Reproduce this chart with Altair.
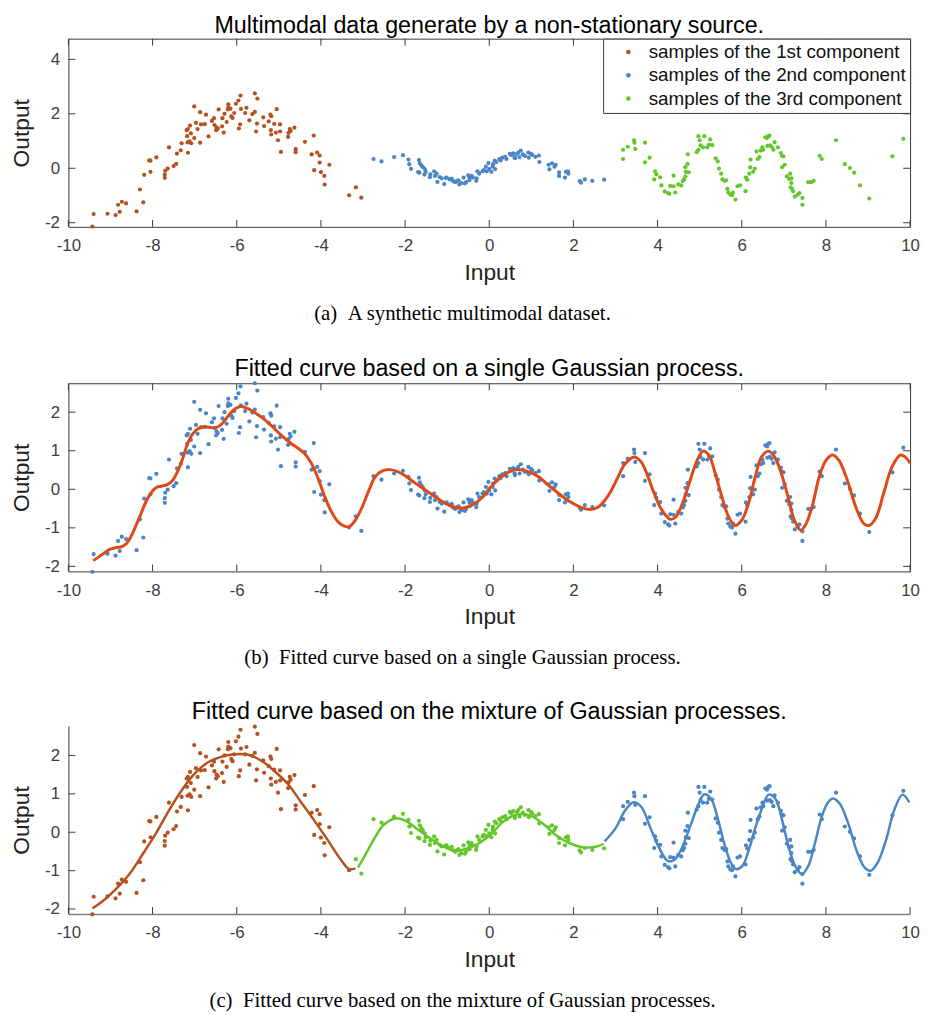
import altair as alt
import pandas as pd

# ---------------- data ----------------
# component 1 (left, broad bump)
c1_x = [-9.43, -9.40, -9.07, -8.88, -8.78, -8.82, -8.73, -8.63, -8.38, -8.22, -8.30, -8.20, -8.08, -8.05, -8.05,
        -7.91, -7.71, -7.71, -7.70, -7.64, -7.61, -7.50, -7.44, -7.42, -7.33, -7.31, -7.16, -7.18, -7.19, -7.16,
        -7.11, -7.12, -7.08, -7.17, -7.09, -7.01, -6.93, -6.97, -6.87, -7.01, -6.87, -6.85, -6.73, -6.76,
        -6.67, -6.59, -6.54, -6.53, -6.48, -6.49, -6.43, -6.45, -6.35, -6.34, -6.31, -6.29, -6.24, -6.21, -6.20,
        -6.20, -6.15, -6.13, -6.10, -6.06, -6.02, -5.96, -5.91, -5.92, -5.95, -5.90, -5.80, -5.77, -5.70, -5.63,
        -5.57, -5.51, -5.57, -5.52, -5.54, -5.35, -5.37, -5.20, -5.18, -5.05, -5.24, -5.19, -5.18, -5.11, -5.07,
        -4.97, -4.97, -5.02, -4.95, -4.78, -4.77, -4.74, -4.72, -4.63, -4.60, -4.60, -4.38, -4.17, -4.22, -4.09,
        -4.03, -4.16, -4.03, -4.00, -3.92, -3.91, -3.80, -3.33, -3.17, -3.04]
c1_y = [-2.14, -1.68, -1.67, -1.72, -1.60, -1.34, -1.23, -1.29, -1.58, -1.25, -0.78, -0.24, 0.29, 0.28, -0.13,
        0.40, -0.35, -0.23, -0.09, -0.01, 0.77, 0.08, 0.16, 0.54, 0.66, 0.92, 0.57, 1.18, 1.40, 1.44,
        1.57, 0.99, 0.92, 0.95, 1.28, 1.11, 1.44, 1.67, 0.94, 2.27, 2.06, 1.61, 1.97, 1.62,
        1.17, 1.74, 1.84, 1.59, 1.50, 1.40, 2.16, 1.46, 1.54, 1.84, 1.31, 2.00, 1.70, 2.16, 2.35,
        2.23, 2.19, 1.91, 1.85, 2.03, 2.37, 2.49, 2.67, 1.61, 1.46, 2.18, 2.03, 2.22, 1.76, 1.99,
        2.75, 2.56, 2.07, 1.64, 1.35, 1.55, 1.87, 1.97, 1.91, 2.17, 1.72, 1.40, 1.24, 1.63, 1.31,
        1.61, 1.35, 1.03, 0.60, 1.15, 1.30, 1.44, 1.37, 1.49, 0.70, 0.59, 0.97, 1.20, 0.51, 0.58,
        0.47, -0.07, 0.21, -0.14, -0.28, -0.60, 0.13, -0.99, -0.70, -1.08]

# component 2 (middle, slow wave)
c2_x = [-2.75, -2.56, -2.26, -2.05, -1.92, -1.90, -1.86, -1.67, -1.65, -1.61, -1.58, -1.69, -1.66, -1.53, -1.51,
        -1.54, -1.41, -1.40, -1.31, -1.25, -1.29, -1.23, -1.18, -1.13, -1.07, -1.03, -1.01, -0.94, -0.89, -0.86,
        -0.81, -0.77, -0.73, -0.71, -0.66, -0.61, -0.58, -0.55, -0.50, -0.47, -0.47, -0.42, -0.39, -0.31, -0.30,
        -0.28, -0.24, -0.16,
        -0.13, -0.08, -0.06, -0.02, 0.00, 0.05, 0.08, 0.09, 0.13, 0.14, 0.17, 0.24, 0.27, 0.31, 0.38,
        0.41, 0.49, 0.52, 0.57, 0.60, 0.61, 0.66, 0.69, 0.72, 0.75, 0.80, 0.85, 0.93, 0.94, 0.99,
        1.02, 1.10, 1.18, 1.19, 1.41, 1.43, 1.49, 1.55, 1.58, 1.66, 1.66, 1.80, 1.82, 1.87, 1.88,
        2.15, 2.18, 2.27, 2.45, 2.73]
c2_y = [0.34, 0.25, 0.41, 0.48, 0.32, 0.15, -0.02, 0.30, 0.18, 0.10, 0.05, -0.14, -0.16, -0.03, -0.13,
        -0.23, -0.33, -0.22, -0.11, -0.20, -0.28, -0.50, -0.32, -0.37, -0.58, -0.35, -0.34, -0.41, -0.38, -0.47,
        -0.51, -0.47, -0.44, -0.59, -0.54, -0.34, -0.56, -0.51, -0.26, -0.34, -0.44, -0.28, -0.34, -0.46, -0.37,
        -0.11, -0.20, -0.11,
        -0.07, 0.06, -0.11, 0.19, -0.03, -0.13, 0.06, 0.15, 0.28, -0.03, 0.23, 0.34, 0.29, 0.39, 0.42,
        0.34, 0.53, 0.49, 0.55, 0.41, 0.37, 0.53, 0.58, 0.41, 0.65, 0.51, 0.45, 0.58, 0.39, 0.53,
        0.49, 0.42, 0.47, 0.23, 0.13, -0.04, 0.18, 0.06, 0.13, -0.15, -0.28, -0.34, -0.13, -0.11, -0.20,
        -0.47, -0.53, -0.41, -0.46, -0.42]

# component 3 (right, fast wave)
c3_x = [3.18, 3.18, 3.29, 3.44, 3.45, 3.47, 3.70, 3.70, 3.81, 3.94, 3.97, 3.92, 4.06, 4.09, 4.17,
        4.25, 4.28, 4.30, 4.38, 4.38, 4.42, 4.49, 4.56, 4.60, 4.63, 4.66, 4.67, 4.66, 4.71, 4.74,
        4.72, 4.93, 4.97, 4.97, 5.00, 5.02, 5.11, 5.08, 5.18, 5.22, 5.25, 5.30, 5.38, 5.43, 5.46,
        5.51, 5.54, 5.59, 5.63, 5.66, 5.68, 5.73, 5.77, 5.79, 5.85, 5.90, 5.96, 6.09, 6.10, 6.13,
        6.18, 6.20, 6.21, 6.27, 6.31, 6.35, 6.38, 6.42, 6.45, 6.51, 6.56, 6.49,
        6.60, 6.63, 6.66, 6.61, 6.67, 6.71, 6.75, 6.78, 6.86, 6.93, 6.96, 6.99, 6.96, 7.02, 7.07,
        7.15, 7.13, 7.18, 7.16, 7.19, 7.18, 7.22, 7.26, 7.33, 7.37, 7.44, 7.44, 7.58, 7.65, 7.71,
        7.85, 7.90, 8.24, 8.45, 8.57, 8.67, 8.81, 9.03, 9.58, 9.84]
c3_y = [0.68, 0.34, 0.79, 1.03, 0.94, 0.71, 0.94, 0.22, 0.39, -0.11, -0.22, -0.41, -0.33, -0.63, -0.85,
        -0.91, -0.94, -0.65, -0.27, -0.66, -0.89, -0.59, -0.63, -0.47, -0.41, -0.30, -0.13, 0.04, 0.16, -0.15,
        0.51, 0.59, 0.68, 1.18, 1.03, 0.84, 1.18, 0.77, 0.77, 0.87, 1.06, 0.85, 0.36, 0.25, -0.01,
        -0.20, -0.41, -0.46, -0.44, -0.76, -0.89, -0.97, -0.99, -0.89, -1.15, -0.66, -0.63, -0.84, -0.34, -0.42,
        -0.20, 0.03, 0.32, -0.13, -0.01, 0.62, 0.34, 0.41, 0.65, 0.68, 1.14, 0.77,
        1.11, 1.18, 1.20, 0.82, 0.84, 0.79, 0.68, 0.96, 0.77, 0.56, 0.45, 0.44, 0.04, 0.13, -0.30,
        -0.20, -0.39, -0.37, -0.70, -0.75, -0.54, -0.84, -1.04, -0.97, -0.91, -1.09, -1.34, -0.51, -0.51, -0.46,
        0.46, 0.34, 1.03, 0.15, 0.01, -0.16, -0.63, -1.11, 0.44, 1.08]

# points of component 1 that the mixture model attached to its middle expert
mix_moved_x = [-3.17, -3.04]

# single GP fit (panel b)
gp_x = [-9.41, -9.18, -9.02, -8.86, -8.74, -8.63, -8.51, -8.39, -8.27, -8.16, -8.04, -7.92, -7.80, -7.65, -7.53,
        -7.41, -7.29, -7.18, -7.06, -6.94, -6.80, -6.65, -6.51, -6.35, -6.20, -6.04, -5.90, -5.73, -5.53, -5.33,
        -5.14, -4.94, -4.75, -4.55, -4.39, -4.24, -4.08, -3.92, -3.77, -3.61, -3.47, -3.33, -3.18, -3.02, -2.86,
        -2.71, -2.55, -2.35, -2.16, -1.96, -1.76, -1.57, -1.37, -1.18, -0.98, -0.78, -0.59, -0.39, -0.12, 0.00,
        0.24, 0.47, 0.69, 0.94, 1.18, 1.41, 1.65, 1.88, 2.12, 2.27, 2.43, 2.59, 2.75, 2.90, 3.06,
        3.22, 3.45, 3.61, 3.76, 3.92, 4.08, 4.24, 4.31, 4.43, 4.59, 4.75, 4.94, 5.08, 5.22, 5.37,
        5.53, 5.69, 5.84, 6.00, 6.16, 6.31, 6.47, 6.64, 6.78, 6.94, 7.10, 7.25, 7.40, 7.53, 7.69,
        7.84, 8.00, 8.16, 8.31, 8.51, 8.71, 8.90, 9.02, 9.18, 9.37, 9.57, 9.77, 9.88, 10.0]
gp_y = [-1.85, -1.68, -1.56, -1.51, -1.49, -1.42, -1.22, -0.93, -0.62, -0.33, -0.10, 0.04, 0.08, 0.12, 0.22,
        0.45, 0.78, 1.15, 1.42, 1.56, 1.61, 1.61, 1.59, 1.70, 1.91, 2.09, 2.15, 2.09, 1.96, 1.80,
        1.61, 1.40, 1.22, 1.07, 0.93, 0.70, 0.32, -0.16, -0.54, -0.82, -0.94, -0.97, -0.80, -0.46, -0.03,
        0.32, 0.47, 0.51, 0.45, 0.32, 0.16, 0.02, -0.13, -0.27, -0.40, -0.48, -0.48, -0.40, -0.16, 0.02,
        0.28, 0.45, 0.51, 0.45, 0.32, 0.10, -0.11, -0.30, -0.44, -0.50, -0.52, -0.46, -0.28, -0.03, 0.32,
        0.65, 0.84, 0.71, 0.36, -0.11, -0.50, -0.73, -0.78, -0.72, -0.37, 0.15, 0.75, 0.99, 0.88, 0.41,
        -0.20, -0.72, -0.94, -0.80, -0.37, 0.28, 0.84, 0.99, 0.84, 0.41, -0.20, -0.80, -1.06, -0.89, -0.37,
        0.32, 0.75, 0.89, 0.75, 0.23, -0.46, -0.89, -0.94, -0.76, -0.11, 0.58, 0.89, 0.84, 0.68]

# mixture of GPs fit (panel c): one curve per expert
m1_x = [-9.43, -9.18, -8.86, -8.55, -8.24, -7.92, -7.61, -7.29, -6.98, -6.67, -6.35, -6.04, -5.73, -5.41, -5.10,
        -4.78, -4.47, -4.16, -3.84, -3.53, -3.33, -3.18]
m1_y = [-1.98, -1.79, -1.47, -1.09, -0.58, -0.03, 0.57, 1.12, 1.55, 1.83, 1.97, 2.03, 2.02, 1.86, 1.59,
        1.25, 0.78, 0.31, -0.20, -0.71, -0.96, -0.94]
m2_x = [-3.12, -2.94, -2.75, -2.51, -2.24, -2.00, -1.73, -1.41, -1.10, -0.78, -0.61, -0.30, 0.02, 0.33, 0.64,
        0.96, 1.27, 1.58, 1.90, 2.21, 2.53, 2.72]
m2_y = [-0.92, -0.58, -0.20, 0.19, 0.36, 0.30, 0.10, -0.15, -0.37, -0.49, -0.45, -0.32, -0.07, 0.27, 0.46,
        0.44, 0.23, -0.07, -0.28, -0.39, -0.38, -0.30]
m3_x = [2.74, 3.00, 3.23, 3.43, 3.62, 3.82, 4.02, 4.25, 4.41, 4.56, 4.80, 4.96, 5.11, 5.27, 5.43,
        5.58, 5.74, 5.86, 6.02, 6.17, 6.33, 6.49, 6.64, 6.80, 6.96, 7.11, 7.27, 7.43, 7.58, 7.74,
        7.90, 8.05, 8.17, 8.33, 8.53, 8.72, 8.92, 9.07, 9.23, 9.43, 9.62, 9.82, 9.98]
m3_y = [-0.24, 0.10, 0.57, 0.78, 0.65, 0.14, -0.37, -0.75, -0.71, -0.45, 0.23, 0.70, 0.99, 0.87, 0.36,
        -0.28, -0.79, -0.96, -0.87, -0.45, 0.14, 0.65, 0.98, 0.87, 0.31, -0.37, -0.88, -1.09, -0.88, -0.28,
        0.40, 0.78, 0.88, 0.74, 0.23, -0.45, -0.92, -1.00, -0.79, -0.20, 0.57, 0.98, 0.78]

legend_labels = ["samples of the 1st component", "samples of the 2nd component", "samples of the 3rd component"]
x_ticks = [-10, -8, -6, -4, -2, 0, 2, 4, 6, 8, 10]
ya_ticks = [-2, 0, 2, 4]
yb_ticks = [-2, -1, 0, 1, 2]

titles = ["Multimodal data generate by a non-stationary source.",
          "Fitted curve based on a single Gaussian process.",
          "Fitted curve based on the mixture of Gaussian processes."]
captions = ["(a)\u00a0\u00a0A synthetic multimodal dataset.",
            "(b)\u00a0\u00a0Fitted curve based on a single Gaussian process.",
            "(c)\u00a0\u00a0Fitted curve based on the mixture of Gaussian processes."]

# ---------------- styling ----------------
BROWN = "#b4521f"
BLUE = "#4a85c5"
GREEN = "#63c62b"
ORANGE = "#dd4a18"
AX = "#3a3a3a"
LBL = "#404040"
SANS = "Liberation Sans"
SERIF = "Liberation Serif"
W, H = 850, 190
PT = 18
TK = 7

# ---------------- tables ----------------
rows = []
for xs, ys, lab in [(c1_x, c1_y, legend_labels[0]), (c2_x, c2_y, legend_labels[1]), (c3_x, c3_y, legend_labels[2])]:
    for a, b in zip(xs, ys):
        if lab == legend_labels[0] and a in mix_moved_x:
            mix = "m2"
        else:
            mix = {legend_labels[0]: "m1", legend_labels[1]: "m2", legend_labels[2]: "m3"}[lab]
        rows.append({"x": a, "y": b, "comp": lab, "mix": mix})
pts = pd.DataFrame(rows)
gp = pd.DataFrame({"x": gp_x, "y": gp_y})
m1 = pd.DataFrame({"x": m1_x, "y": m1_y})
m2 = pd.DataFrame({"x": m2_x, "y": m2_y})
m3 = pd.DataFrame({"x": m3_x, "y": m3_y})


def xenc(box):
    return alt.X("x:Q", scale=alt.Scale(domain=[-10, 10], nice=False, zero=False),
                 axis=alt.Axis(title="Input", values=x_ticks, labelExpr="'' + datum.value",
                               ticks=False, grid=False, domain=not box, domainColor="#808080",
                               domainWidth=1.5, labelFlush=False,
                               labelFont=SANS, labelFontSize=17, labelColor=LBL, labelPadding=11,
                               titleFont=SANS, titleFontSize=23, titleFontWeight="normal",
                               titleColor="#222222", titlePadding=8))


def yenc(dom, ticks, box):
    return alt.Y("y:Q", scale=alt.Scale(domain=dom, nice=False, zero=False),
                 axis=alt.Axis(title="Output", values=ticks, labelExpr="'' + datum.value",
                               ticks=False, grid=False, domain=not box, domainColor=AX, domainWidth=1,
                               labelFlush=False,
                               labelFont=SANS, labelFontSize=17, labelColor=LBL, labelPadding=9,
                               titleFont=SANS, titleFontSize=23, titleFontWeight="normal",
                               titleColor="#222222", titlePadding=11))


def tick_layers(dom, yt, box):
    xs = pd.DataFrame({"x": x_ticks})
    ys = pd.DataFrame({"y": yt})
    xsc = alt.Scale(domain=[-10, 10], nice=False, zero=False)
    ysc = alt.Scale(domain=dom, nice=False, zero=False)
    lay = [
        alt.Chart(xs).mark_rule(color=AX, strokeWidth=1).encode(
            x=alt.X("x:Q", scale=xsc), y=alt.value(H), y2=alt.value(H - TK)),
        alt.Chart(ys).mark_rule(color=AX, strokeWidth=1).encode(
            y=alt.Y("y:Q", scale=ysc), x=alt.value(0), x2=alt.value(TK)),
    ]
    if box:
        lay += [
            alt.Chart(xs).mark_rule(color=AX, strokeWidth=1).encode(
                x=alt.X("x:Q", scale=xsc), y=alt.value(0), y2=alt.value(TK)),
            alt.Chart(ys).mark_rule(color=AX, strokeWidth=1).encode(
                y=alt.Y("y:Q", scale=ysc), x=alt.value(W), x2=alt.value(W - TK)),
        ]
    return lay


def caption(txt):
    return alt.Chart(pd.DataFrame({"t": [txt]})).mark_text(
        font=SERIF, fontSize=21, color="black", baseline="middle", align="center").encode(
        text="t:N", x=alt.value(W / 2 - 27), y=alt.value(H + 88))


def title(txt):
    return alt.TitleParams(txt, font=SANS, fontSize=23.5, fontWeight="normal", color="black",
                           anchor="middle", offset=1)


# ---------------- panel a ----------------
dom_a = [-2.15, 4.76]
pa_points = alt.Chart(pts).mark_circle(size=PT, opacity=1).encode(
    x=xenc(True), y=yenc(dom_a, ya_ticks, True),
    color=alt.Color("comp:N", scale=alt.Scale(domain=legend_labels, range=[BROWN, BLUE, GREEN]),
                    legend=alt.Legend(title=None, orient="top-right", offset=0, padding=4,
                                      strokeColor=AX, fillColor="white", symbolType="circle",
                                      symbolSize=22, symbolStrokeWidth=0, labelFont=SANS, labelFontSize=19,
                                      labelColor="#111111", labelLimit=400, rowPadding=3.5,
                                      symbolOffset=12, labelOffset=11)))
panel_a = alt.layer(pa_points, *tick_layers(dom_a, ya_ticks, True), caption(captions[0])).properties(
    width=W, height=H, title=title(titles[0]), view=alt.ViewBackground(stroke=AX, strokeWidth=1))

# ---------------- panel b ----------------
dom_b = [-2.13, 2.75]
pb_points = alt.Chart(pts).mark_circle(size=PT, opacity=1, color=BLUE).encode(
    x=xenc(True), y=yenc(dom_b, yb_ticks, True))
pb_line = alt.Chart(gp).mark_line(color=ORANGE, strokeWidth=3, interpolate="catmull-rom").encode(
    x=xenc(True), y=yenc(dom_b, yb_ticks, True))
panel_b = alt.layer(pb_points, pb_line, *tick_layers(dom_b, yb_ticks, True), caption(captions[1])).properties(
    width=W, height=H, title=title(titles[1]), view=alt.ViewBackground(stroke=AX, strokeWidth=1))

# ---------------- panel c ----------------
dom_c = [-2.13, 2.77]
layers_c = []
for key, col, df in [("m1", BROWN, m1), ("m2", GREEN, m2), ("m3", BLUE, m3)]:
    layers_c.append(alt.Chart(pts).transform_filter(alt.datum.mix == key).mark_circle(
        size=PT, opacity=1, color=col).encode(x=xenc(False), y=yenc(dom_c, yb_ticks, False)))
    layers_c.append(alt.Chart(df).mark_line(color=col, strokeWidth=2.5, interpolate="catmull-rom").encode(
        x=xenc(False), y=yenc(dom_c, yb_ticks, False)))
panel_c = alt.layer(*layers_c, *tick_layers(dom_c, yb_ticks, False), caption(captions[2])).properties(
    width=W, height=H, title=title(titles[2]), view=alt.ViewBackground(stroke=None))

chart = alt.vconcat(panel_a, panel_b, panel_c, spacing=31).resolve_scale(color="independent").configure_view(
    stroke=None).properties(padding={"left": 2, "top": 0, "right": 0, "bottom": 0}).configure(background="white")

chart.save("out.html", embed_options={"renderer": "svg", "actions": False})
